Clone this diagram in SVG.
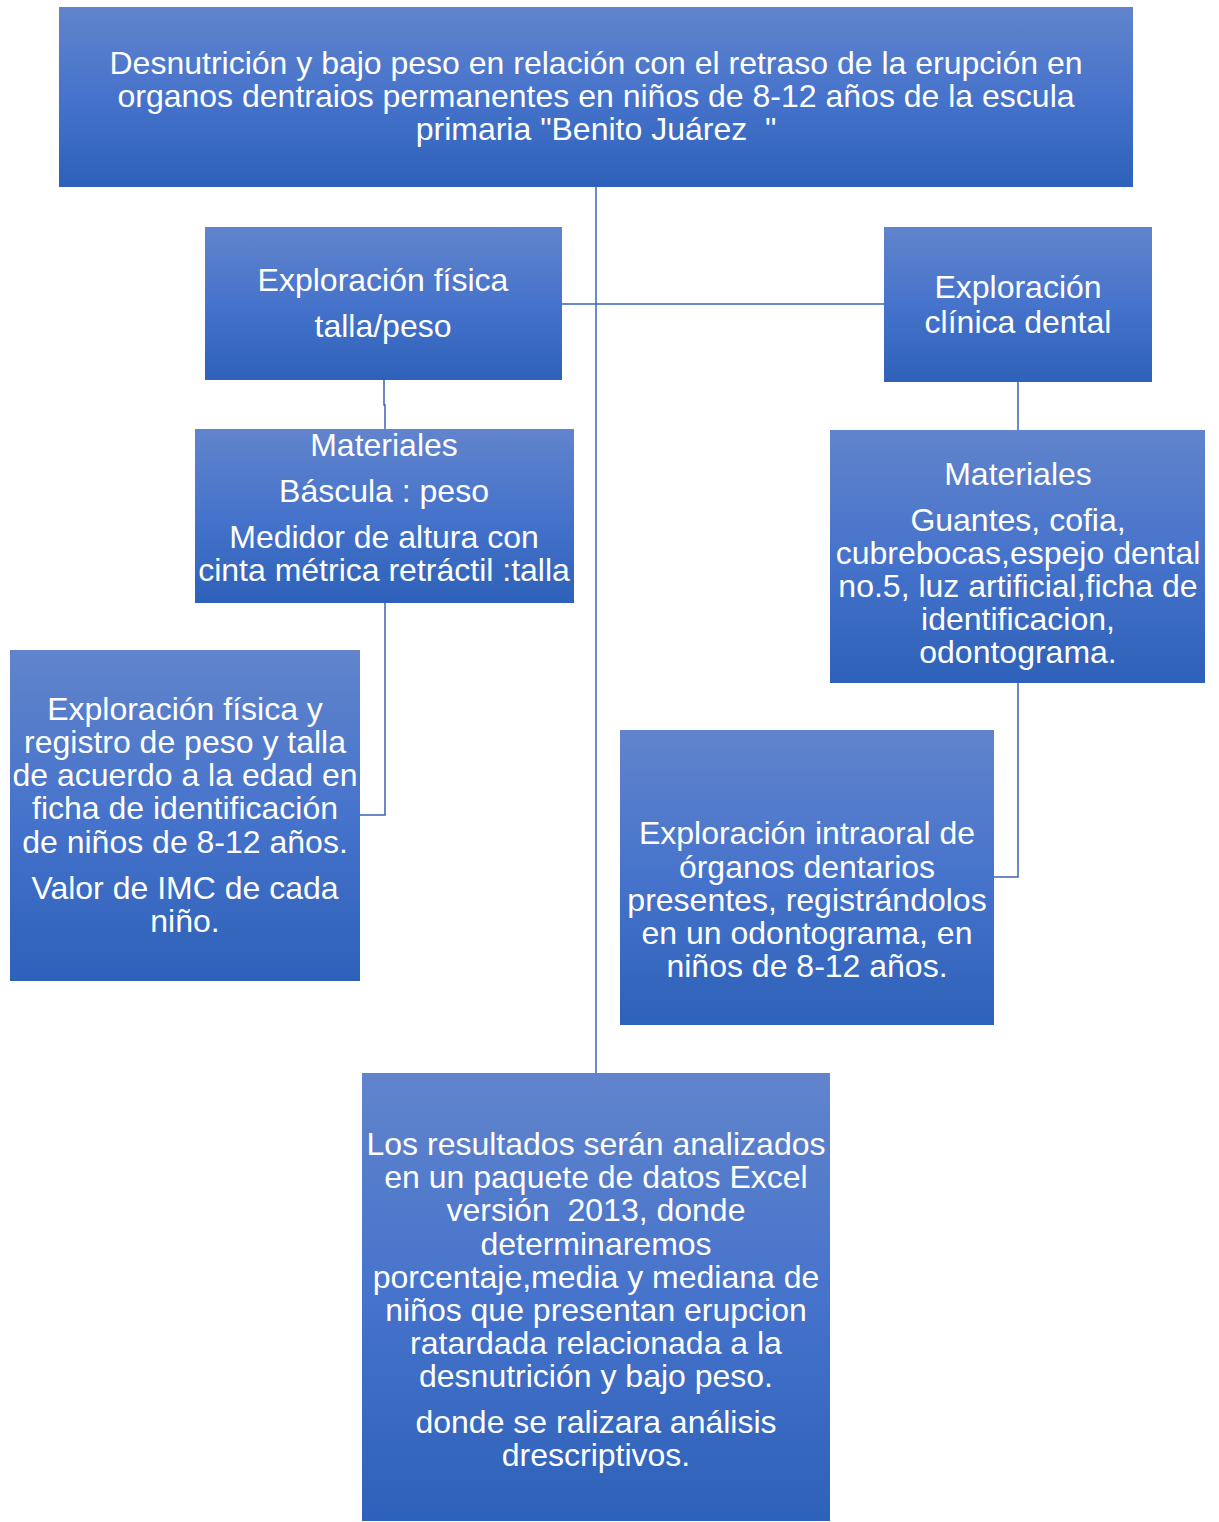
<svg xmlns="http://www.w3.org/2000/svg" width="1219" height="1522" viewBox="0 0 1219 1522">
<defs>
<linearGradient id="g" x1="0" y1="0" x2="0" y2="1">
<stop offset="0" stop-color="#6184cc"/>
<stop offset="0.5" stop-color="#4673cb"/>
<stop offset="1" stop-color="#2e61b9"/>
</linearGradient>
<style>
.box{fill:url(#g);}
.t{font-family:"Liberation Sans",Arial,sans-serif;font-size:32px;fill:#ffffff;text-anchor:middle;}
.c{fill:none;stroke:#3a64b4;stroke-width:1.5;}
</style>
</defs>
<rect width="1219" height="1522" fill="#ffffff"/>
<g id="connectors">
<path class="c" d="M596,187 V1073"/>
<path class="c" d="M562,304 H884"/>
<path class="c" d="M384,380 V405 H385 V429"/>
<path class="c" d="M385,603 V815 H360"/>
<path class="c" d="M1018,382 V430"/>
<path class="c" d="M1018,683 V877 H994"/>
</g>
<g id="top">
<rect class="box" x="59" y="7" width="1074" height="180"/>
<text class="t" x="596" y="74">Desnutrición y bajo peso en relación con el retraso de la erupción en</text>
<text class="t" x="596" y="107">organos dentraios permanentes en niños de 8-12 años de la escula</text>
<text class="t" x="596" y="140" xml:space="preserve">primaria "Benito Juárez  "</text>
</g>
<g id="expl-fisica">
<rect class="box" x="205" y="227" width="357" height="153"/>
<text class="t" x="383" y="291">Exploración física</text>
<text class="t" x="383" y="337">talla/peso</text>
</g>
<g id="expl-dental">
<rect class="box" x="884" y="227" width="268" height="155"/>
<text class="t" x="1018" y="298">Exploración</text>
<text class="t" x="1018" y="333">clínica dental</text>
</g>
<g id="materiales-izq">
<rect class="box" x="195" y="429" width="379" height="174"/>
<text class="t" x="384" y="456">Materiales</text>
<text class="t" x="384" y="502">Báscula : peso</text>
<text class="t" x="384" y="548">Medidor de altura con</text>
<text class="t" x="384" y="581">cinta métrica retráctil :talla</text>
</g>
<g id="materiales-der">
<rect class="box" x="830" y="430" width="375" height="253"/>
<text class="t" x="1018" y="485">Materiales</text>
<text class="t" x="1018" y="531">Guantes, cofia,</text>
<text class="t" x="1018" y="564">cubrebocas,espejo dental</text>
<text class="t" x="1018" y="597">no.5, luz artificial,ficha de</text>
<text class="t" x="1018" y="630">identificacion,</text>
<text class="t" x="1018" y="663">odontograma.</text>
</g>
<g id="registro">
<rect class="box" x="10" y="650" width="350" height="331"/>
<text class="t" x="185" y="720">Exploración física y</text>
<text class="t" x="185" y="753">registro de peso y talla</text>
<text class="t" x="185" y="786">de acuerdo a la edad en</text>
<text class="t" x="185" y="819">ficha de identificación</text>
<text class="t" x="185" y="853">de niños de 8-12 años.</text>
<text class="t" x="185" y="899">Valor de IMC de cada</text>
<text class="t" x="185" y="932">niño.</text>
</g>
<g id="intraoral">
<rect class="box" x="620" y="730" width="374" height="295"/>
<text class="t" x="807" y="844">Exploración intraoral de</text>
<text class="t" x="807" y="878">órganos dentarios</text>
<text class="t" x="807" y="911">presentes, registrándolos</text>
<text class="t" x="807" y="944">en un odontograma, en</text>
<text class="t" x="807" y="977">niños de 8-12 años.</text>
</g>
<g id="resultados">
<rect class="box" x="362" y="1073" width="468" height="448"/>
<text class="t" x="596" y="1155">Los resultados serán analizados</text>
<text class="t" x="596" y="1188">en un paquete de datos Excel</text>
<text class="t" x="596" y="1221" xml:space="preserve">versión  2013, donde</text>
<text class="t" x="596" y="1255">determinaremos</text>
<text class="t" x="596" y="1288">porcentaje,media y mediana de</text>
<text class="t" x="596" y="1321">niños que presentan erupcion</text>
<text class="t" x="596" y="1354">ratardada relacionada a la</text>
<text class="t" x="596" y="1387">desnutrición y bajo peso.</text>
<text class="t" x="596" y="1433">donde se ralizara análisis</text>
<text class="t" x="596" y="1466">drescriptivos.</text>
</g>
</svg>
